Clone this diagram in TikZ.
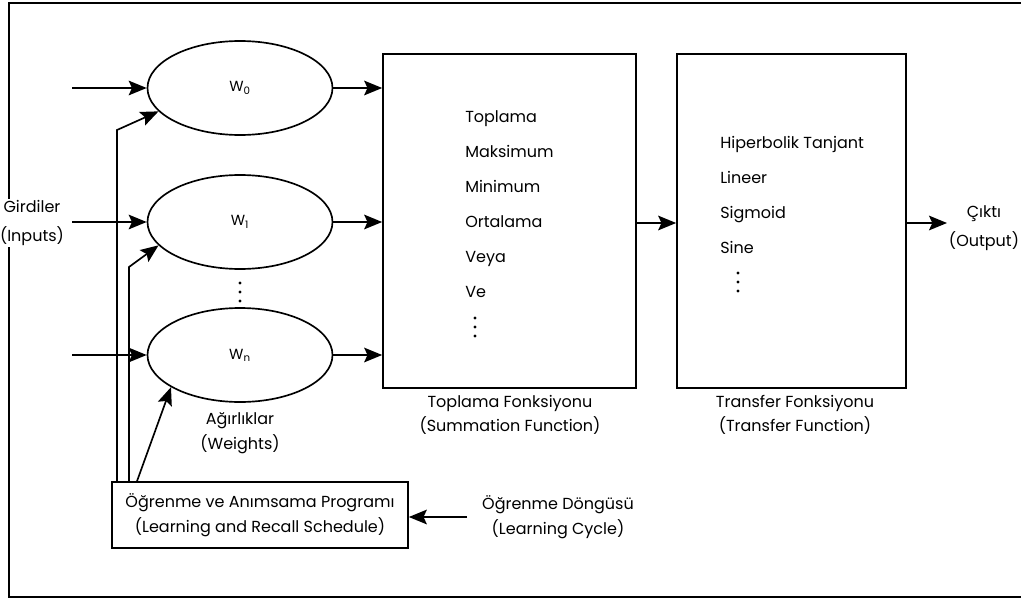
\documentclass[tikz,border=0pt]{standalone}
\usepackage{fontspec}
\setmainfont{Poppins}
\usetikzlibrary{arrows.meta,positioning,shapes.geometric}

\tikzset{
  arr/.style={-{Stealth[length=13.5pt,width=11pt,inset=2.5pt]}, line width=1.25pt},
  weight/.style={draw, ellipse, line width=1.25pt, minimum width=138.75pt, minimum height=70.5pt, inner sep=0pt, font=\fontsize{11}{12}\selectfont},
  funcbox/.style={draw, line width=1.25pt, minimum height=250.5pt},
  lbl/.style={align=center, font=\fontsize{12}{18.5}\selectfont},
  widelbl/.style={align=center, font=\fontsize{12}{21.5}\selectfont},
  listitem/.style={anchor=base west, inner sep=0pt, font=\fontsize{12}{14}\selectfont},
}

% three stacked dots
\newcommand{\dotcol}[2]{\foreach \d in {-9,0,9} \fill (#1,{#2+\d}) circle (1.6);}

\begin{document}
\begin{tikzpicture}[x=0.75pt,y=-0.75pt]

    \useasboundingbox (0,0) rectangle (1021,600);
    \clip (0,0) rectangle (1021,600);

    % outer frame (open on the right)
    \draw[line width=1.7pt] (1040,3) -- (9,3) -- (9,597) -- (1040,597);

    % =========================
    % weights
    % =========================
    \node[weight] (w0) at (240,88)  {W\textsubscript{0}};
    \node[weight] (w1) at (240,222) {W\textsubscript{1}};
    \node[weight] (wn) at (240,355) {W\textsubscript{n}};
    \dotcol{240}{292}
    \node[lbl] (wlbl) at (240,433) {Ağırlıklar\\(Weights)};

    % inputs
    \node[widelbl, fill=white, inner sep=1pt] (inlbl) at (32,223) {Girdiler\\(Inputs)};
    \coordinate (in0) at (72,88);
    \coordinate (in1) at (72,222);
    \coordinate (inn) at (72,355);
    \draw[arr] (in0) -- (w0.west);
    \draw[arr] (in1) -- (w1.west);
    \draw[arr] (inn) -- (wn.west);

    % =========================
    % summation and transfer
    % =========================
    \node[funcbox, minimum width=189.75pt] (sum) at (509.5,221) {};
    \node[funcbox, minimum width=171.75pt] (trans) at (791.5,221) {};
    \node[lbl] (sumlbl) at (510,415) {Toplama Fonksiyonu\\(Summation Function)};
    \node[lbl] (translbl) at (795,415) {Transfer Fonksiyonu\\(Transfer Function)};

    \foreach \t [count=\i from 0] in {Toplama,Maksimum,Minimum,Ortalama,Veya,Ve}
        \node[listitem] (s\i) at (465,{122+35*\i}) {\t};
    \dotcol{475}{327}

    \foreach \t [count=\i from 0] in {Hiperbolik Tanjant,Lineer,Sigmoid,Sine}
        \node[listitem] (t\i) at (720,{148+35*\i}) {\t};
    \dotcol{738}{282}

    \draw[arr] (w0.east) -- (w0.east -| sum.west);
    \draw[arr] (w1.east) -- (w1.east -| sum.west);
    \draw[arr] (wn.east) -- (wn.east -| sum.west);
    \draw[arr] (sum.east |- 0,223) -- (trans.west |- 0,223);

    % output
    \node[widelbl] (outlbl) at (984,228) {Çıktı\\(Output)};
    \coordinate (out) at (947,223);
    \draw[arr] (trans.east |- out) -- (out);

    % =========================
    % learning schedule
    % =========================
    \node[draw, line width=1.25pt, minimum width=222pt, minimum height=49.5pt, lbl] (learn) at (260,515)
        {Öğrenme ve Anımsama Programı\\(Learning and Recall Schedule)};
    \node[lbl] (cyclbl) at (558,517) {Öğrenme Döngüsü\\(Learning Cycle)};
    \coordinate (cyc) at (467,517);
    \draw[arr] (cyc) -- (learn.east |- cyc);

    \draw[arr] (117,0 |- learn.north) -- (117,130) -- (w0.196);
    \draw[arr] (129,0 |- learn.north) -- (129,267) -- (w1.196);
    \draw[arr] (137,0 |- learn.north) -- (wn.205);

\end{tikzpicture}
\end{document}
